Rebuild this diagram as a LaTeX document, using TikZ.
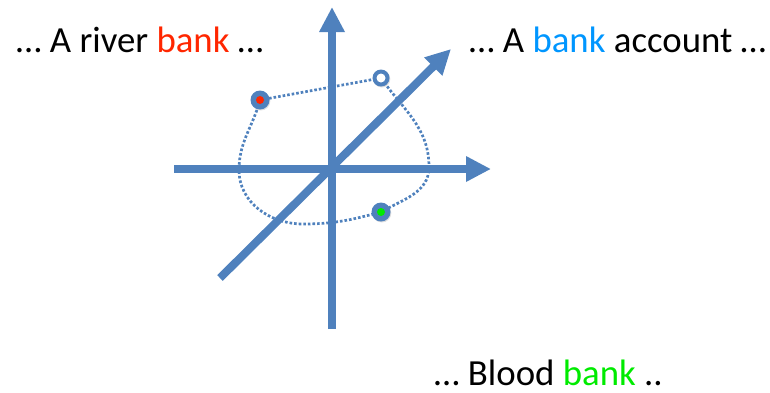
\documentclass[tikz,border=0pt]{standalone}
\usepackage{fontspec}
\setmainfont{Carlito}
\usetikzlibrary{arrows.meta,shadows}
\definecolor{axisblue}{RGB}{79,129,189}
\definecolor{wred}{RGB}{255,38,0}
\definecolor{wblue}{RGB}{0,150,255}
\definecolor{wgreen}{RGB}{0,235,0}
\tikzset{
  axis/.style={line width=8pt, axisblue, -{Triangle[length=25pt,width=24pt]}},
  loopline/.style={line width=2.7pt, axisblue, dash pattern=on 2.6pt off 2pt},
  marker/.style={circle, fill=axisblue, minimum size=19pt, inner sep=0pt,
    drop shadow={opacity=0.25, shadow xshift=0.8pt, shadow yshift=-1pt}},
  dotin/.style={circle, minimum size=8pt, inner sep=0pt},
  lbl/.style={anchor=base west, inner sep=0pt, font=\fontsize{36.8}{42}\selectfont}
}
\begin{document}
\begin{tikzpicture}[x=1pt,y=-1pt]
\useasboundingbox (0,0) rectangle (770,392);
% axes
\coordinate (vb) at (332,329);
\coordinate (vt) at (332,7);
\coordinate (hl) at (174,169);
\coordinate (hr) at (491,169);
\coordinate (db) at (220,278);
\coordinate (dt) at (451,49);
\draw[axis] (vb) -- (vt);
\draw[axis] (hl) -- (hr);
\draw[axis] (db) -- (dt);
% loop
\coordinate (r) at (260,100);
\coordinate (w) at (381,78);
\coordinate (g) at (381,212);
\coordinate (e) at (429,167);
\coordinate (s) at (303,224);
\coordinate (o) at (239,170);
\draw[loopline] (r) -- (w)
  to[out=-55,in=90] (e)
  to[out=-90,in=30] (g)
  to[out=195,in=0] (s)
  to[out=180,in=-90] (o)
  to[out=90,in=-105] (r);
% markers
\node[marker] (mr) at (r) {};
\node[dotin, fill=wred] (mri) at (r) {};
\node[marker, minimum size=17pt] (mw) at (w) {};
\node[dotin, fill=white, minimum size=9pt] (mwi) at (w) {};
\node[marker] (mg) at (g) {};
\node[dotin, fill=wgreen] (mgi) at (g) {};
% labels
\node[lbl] (t1) at (16,52) {… A river \textcolor{wred}{bank} …};
\node[lbl] (t2) at (469,52) {… A \textcolor{wblue}{bank} account …};
\node[lbl] (t3) at (434,385) {… Blood \textcolor{wgreen}{bank} ..};
\end{tikzpicture}
\end{document}
